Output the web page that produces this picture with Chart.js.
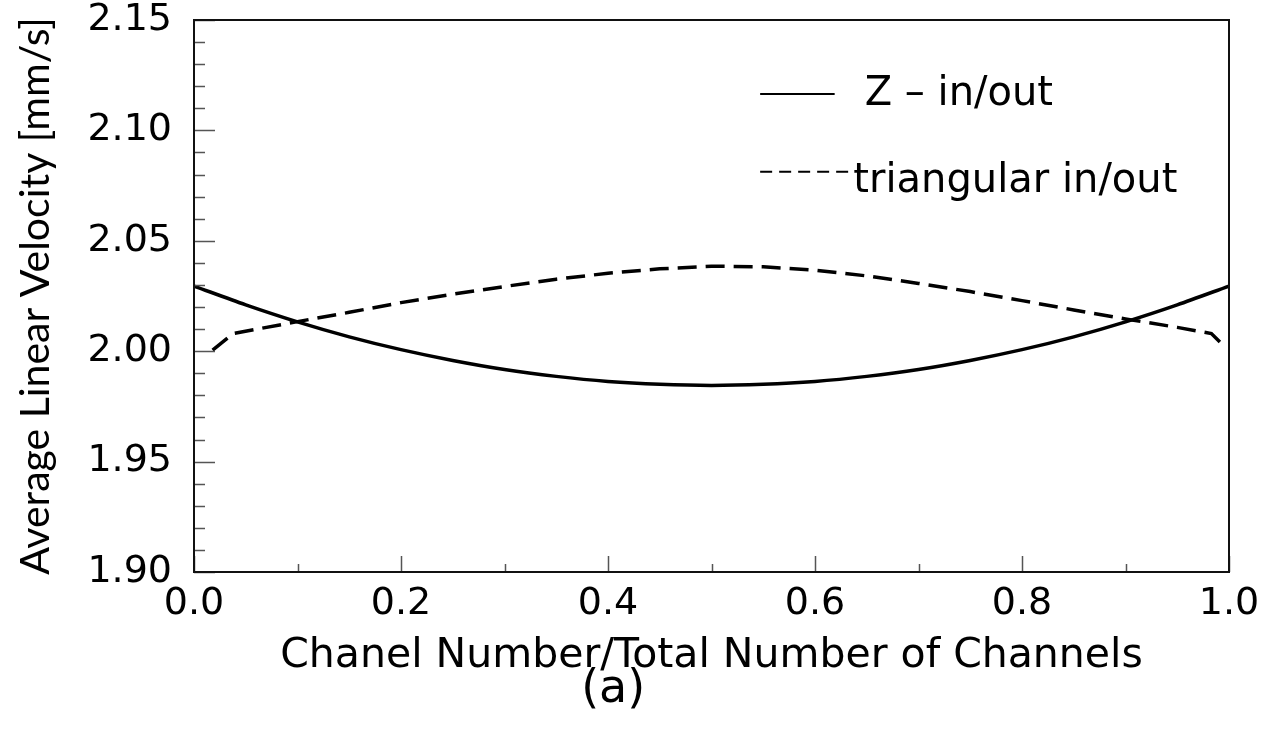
<!DOCTYPE html>
<html>
<head>
<meta charset="utf-8">
<script src="https://cdn.jsdelivr.net/npm/chart.js@4"></script>
<style>
  html, body { margin: 0; padding: 0; background: #fff; }
  #wrap { width: 1281px; height: 730px; }
</style>
</head>
<body>
<div id="wrap"><canvas id="velocityChart" width="1281" height="730"></canvas></div>
<script>
// channel position (normalised) and average velocity
const zX = [0, 0.05, 0.1, 0.15, 0.2, 0.25, 0.3, 0.35, 0.4, 0.45, 0.5, 0.55, 0.6, 0.65, 0.7, 0.75, 0.8, 0.85, 0.9, 0.95, 1.0];
const zVel = [2.0295, 2.0210, 2.0133, 2.0065, 2.0007, 1.9958, 1.9917, 1.9886, 1.9863, 1.9850, 1.9845, 1.9850, 1.9863, 1.9886, 1.9917, 1.9958, 2.0007, 2.0065, 2.0133, 2.0210, 2.0295];

const triX = [0.018, 0.038, 0.1, 0.15, 0.2, 0.25, 0.3, 0.35, 0.4, 0.45, 0.5, 0.55, 0.6, 0.65, 0.7, 0.75, 0.8, 0.85, 0.9, 0.95, 0.983, 0.992];
const triVel = [2.0005, 2.0080, 2.0134, 2.0176, 2.0220, 2.0258, 2.0293, 2.0326, 2.0353, 2.0373, 2.0385, 2.0382, 2.0367, 2.0341, 2.0307, 2.0270, 2.0229, 2.0187, 2.0146, 2.0108, 2.0080, 2.0038];

const seriesLabels = ["Z \u2013 in/out", "triangular in/out"];

// axis ticks
const xMajor = [0, 0.2, 0.4, 0.6, 0.8, 1.0];
const xMinor = [0.1, 0.3, 0.5, 0.7, 0.9];
const yMajor = [1.90, 1.95, 2.00, 2.05, 2.10, 2.15];
const yMinor = [1.91, 1.92, 1.93, 1.94, 1.96, 1.97, 1.98, 1.99, 2.01, 2.02, 2.03, 2.04, 2.06, 2.07, 2.08, 2.09, 2.11, 2.12, 2.13, 2.14];
const panelLabel = "(a)";

const toPoints = (xs, ys) => xs.map((x, i) => ({ x: x, y: ys[i] }));

// frame, inward tick marks, legend and panel letter
const framePlugin = {
    id: "frame",
    afterDatasetsDraw(chart) {
        const { ctx, chartArea: a, scales } = chart;
        const xs = scales.x, ys = scales.y;
        ctx.save();
        ctx.strokeStyle = "#555";
        ctx.lineWidth = 1.5;
        ctx.beginPath();
        yMajor.forEach(v => { const p = Math.round(ys.getPixelForValue(v)) + 0.5; ctx.moveTo(a.left, p); ctx.lineTo(a.left + 21, p); });
        yMinor.forEach(v => { const p = Math.round(ys.getPixelForValue(v)) + 0.5; ctx.moveTo(a.left, p); ctx.lineTo(a.left + 11, p); });
        xMajor.forEach(v => { const p = Math.round(xs.getPixelForValue(v)) + 0.5; ctx.moveTo(p, a.bottom); ctx.lineTo(p, a.bottom - 16); });
        xMinor.forEach(v => { const p = Math.round(xs.getPixelForValue(v)) + 0.5; ctx.moveTo(p, a.bottom); ctx.lineTo(p, a.bottom - 8); });
        ctx.stroke();

        ctx.strokeStyle = "#111";
        ctx.lineWidth = 2;
        ctx.strokeRect(a.left, a.top, a.right - a.left, a.bottom - a.top);

        // legend
        const w = a.right - a.left, h = a.bottom - a.top;
        ctx.fillStyle = "#000";
        ctx.strokeStyle = "#000";
        ctx.font = "40px 'DejaVu Sans'";
        ctx.textBaseline = "middle";
        ctx.lineWidth = 2;
        ctx.setLineDash([]);
        ctx.beginPath();
        ctx.moveTo(a.left + 0.547 * w, a.top + 0.134 * h);
        ctx.lineTo(a.left + 0.619 * w, a.top + 0.134 * h);
        ctx.stroke();
        ctx.fillText(seriesLabels[0], a.left + 0.648 * w, a.top + 0.136 * h);

        ctx.setLineDash([12, 7]);
        ctx.beginPath();
        ctx.moveTo(a.left + 0.547 * w, a.top + 0.275 * h);
        ctx.lineTo(a.left + 0.634 * w, a.top + 0.275 * h);
        ctx.stroke();
        ctx.setLineDash([]);
        ctx.fillText(seriesLabels[1], a.left + 0.637 * w, a.top + 0.293 * h);

        // panel letter
        ctx.font = "46px 'DejaVu Sans'";
        ctx.textAlign = "center";
        ctx.fillText(panelLabel, a.left + 0.405 * w, a.bottom + 118);
        ctx.restore();
    },
};

const ctx = document.getElementById("velocityChart").getContext("2d");

new Chart(ctx, {
    type: "scatter",
    data: {
        datasets: [
            {
                label: seriesLabels[0],
                data: toPoints(zX, zVel),
                showLine: true,
                borderColor: "#000",
                borderWidth: 3.5,
                pointRadius: 0,
                tension: 0.3,
            },
            {
                label: seriesLabels[1],
                data: toPoints(triX, triVel),
                showLine: true,
                borderColor: "#000",
                borderWidth: 3.5,
                borderDash: [19, 9],
                pointRadius: 0,
                tension: 0,
            },
        ],
    },
    options: {
        responsive: false,
        animation: false,
        layout: { padding: { left: 0, right: 52, top: 0, bottom: 0 } },
        plugins: {
            legend: { display: false },
            tooltip: { enabled: false },
        },
        scales: {
            x: {
                type: "linear",
                min: 0,
                max: 1,
                afterBuildTicks: (scale) => { scale.ticks = xMajor.map(v => ({ value: v })); },
                afterFit: (scale) => { scale.height = 158; },
                grid: { display: false, drawTicks: false },
                border: { display: false },
                ticks: {
                    padding: 9,
                    color: "#000",
                    font: { family: "'DejaVu Sans'", size: 38 },
                    callback: (v) => v.toFixed(1),
                },
                title: {
                    display: true,
                    text: "Chanel Number/Total Number of Channels",
                    color: "#000",
                    font: { family: "'DejaVu Sans'", size: 41 },
                    padding: { top: 0, bottom: 49 },
                },
            },
            y: {
                type: "linear",
                min: 1.90,
                max: 2.15,
                afterBuildTicks: (scale) => { scale.ticks = yMajor.map(v => ({ value: v })); },
                afterFit: (scale) => {
                    scale.width = 194;
                    scale.paddingTop = 20;
                    scale.paddingBottom = 0;
                },
                grid: { display: false, drawTicks: false },
                border: { display: false },
                ticks: {
                    padding: 22,
                    color: "#000",
                    font: { family: "'DejaVu Sans'", size: 38 },
                    callback: (v) => v.toFixed(2),
                },
                title: {
                    display: true,
                    text: "Average Linear Velocity [mm/s]",
                    color: "#000",
                    font: { family: "Lato", size: 41 },
                    padding: { top: 11, bottom: 0 },
                },
            },
        },
    },
    plugins: [framePlugin],
});
</script>
</body>
</html>
